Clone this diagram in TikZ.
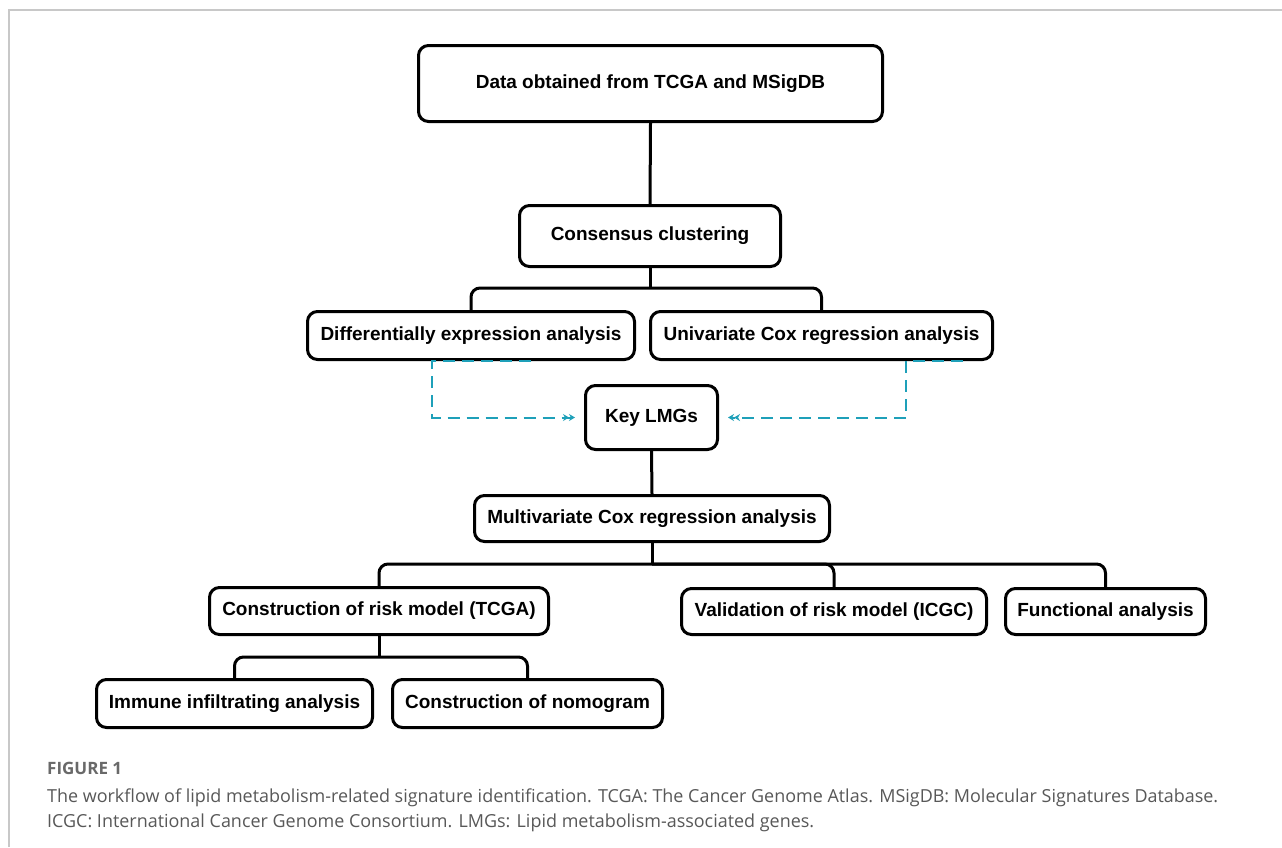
\documentclass[tikz,border=0pt]{standalone}
\usepackage{fontspec}
\setmainfont{Liberation Sans}
\newfontfamily\capfont{Open Sans}
\usetikzlibrary{arrows.meta,calc}
\definecolor{tealc}{RGB}{30,160,185}
\definecolor{capgray}{RGB}{88,88,88}
\definecolor{figgray}{RGB}{105,105,105}
\definecolor{framegray}{RGB}{200,200,200}
\begin{document}
\begin{tikzpicture}[x=1pt,y=-1pt,
  box/.style={draw, line width=3pt, rounded corners=10pt, font=\fontsize{19}{22}\selectfont\bfseries, inner sep=0pt, align=center, fill=white},
  conn/.style={line width=3pt, rounded corners=9pt},
  dashc/.style={tealc, line width=2pt, dash pattern=on 12pt off 7pt, shorten >=9pt, -{Stealth[length=6pt,width=7pt] Stealth[length=6pt,width=7pt]}},
  captext/.style={anchor=base west, inner sep=0pt, text=capgray, font=\capfont\fontsize{17.95}{21}\selectfont}
]
\useasboundingbox (0,0) rectangle (1282,847);
\fill[white] (0,0) rectangle (1282,847);
\draw[framegray, line width=1.5pt] (9,847) -- (9,10) -- (1282,10);

\node[box, minimum width=464pt, minimum height=76pt] (top) at (650.5,83.5) {Data obtained from TCGA and MSigDB};
\node[box, minimum width=261pt, minimum height=61pt] (cons) at (650,236) {Consensus clustering};
\node[box, minimum width=327pt, minimum height=48pt] (diff) at (471,335.5) {Differentially expression analysis};
\node[box, minimum width=342pt, minimum height=48pt] (uni) at (821.5,335.5) {Univariate Cox regression analysis};
\node[box, minimum width=132pt, minimum height=64pt] (key) at (651.5,417.5) {Key LMGs};
\node[box, minimum width=355pt, minimum height=46pt] (multi) at (652,518.5) {Multivariate Cox regression analysis};
\node[box, minimum width=339pt, minimum height=47pt] (risk) at (379,611) {Construction of risk model (TCGA)};
\node[box, minimum width=305pt, minimum height=46pt] (valid) at (834,611.5) {Validation of risk model (ICGC)};
\node[box, minimum width=200pt, minimum height=46pt] (func) at (1105.5,611.5) {Functional analysis};
\node[box, minimum width=276pt, minimum height=48pt] (immune) at (234.5,703.5) {Immune infiltrating analysis};
\node[box, minimum width=270pt, minimum height=48pt] (nomo) at (527.5,703.5) {Construction of nomogram};

\coordinate (b1) at (650,288);
\coordinate (b2) at (652,564);
\coordinate (b3) at (379,657);

\draw[conn] (top.south) -- (cons.north);
\draw[conn] (cons.south) -- (b1);
\draw[conn] (diff.north) |- (b1) -| (uni.north);
\draw[conn] (key.south) -- (multi.north);
\draw[conn] (multi.south) -- (b2);
\draw[conn] (risk.north) |- (b2) -| (func.north);
\draw[conn] (b2) -| (valid.north);
\draw[conn] (risk.south) -- (b3);
\draw[conn] (immune.north) |- (b3) -| (nomo.north);

\draw[dashc] ($(diff.south)+(60,0)$) -- ($(diff.south)+(-39,0)$) |- (key.west);
\draw[dashc] ($(uni.south)+(141.5,0)$) -- ($(uni.south)+(84.5,0)$) |- (key.east);

\node[captext, text=figgray, font=\capfont\fontsize{17}{20}\selectfont\bfseries] (fig) at (47,774) {FIGURE 1};
\node[captext] (cap1) at (47,802) {The workflow of lipid metabolism-related signature identification. TCGA: The Cancer Genome Atlas. MSigDB: Molecular Signatures Database.};
\node[captext] (cap2) at (47,827) {ICGC: International Cancer Genome Consortium. LMGs: Lipid metabolism-associated genes.};
\end{tikzpicture}
\end{document}
